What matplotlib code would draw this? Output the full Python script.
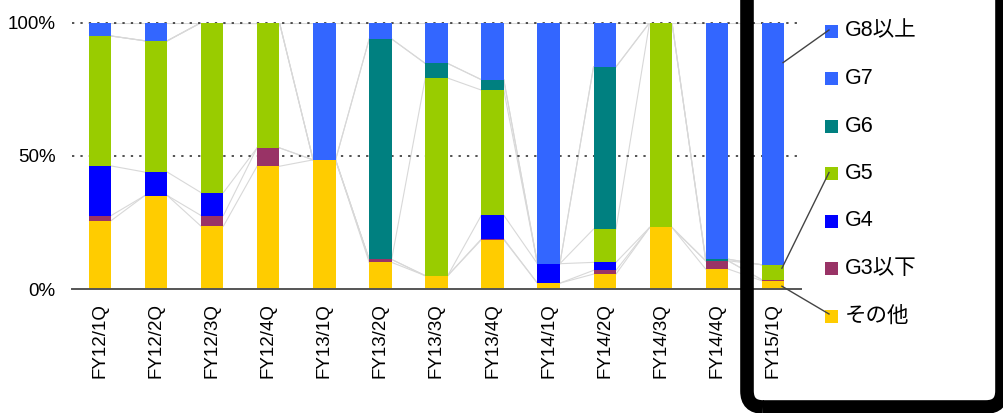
import numpy as np
import matplotlib
matplotlib.use("Agg")
from matplotlib import pyplot as plt
from matplotlib.patches import FancyBboxPatch, Rectangle
from matplotlib.lines import Line2D
from matplotlib.transforms import IdentityTransform

plt.rcParams['font.family'] = ['Liberation Sans', 'Noto Sans CJK JP', 'DejaVu Sans']

quarters = ["FY12/1Q", "FY12/2Q", "FY12/3Q", "FY12/4Q", "FY13/1Q", "FY13/2Q", "FY13/3Q",
            "FY13/4Q", "FY14/1Q", "FY14/2Q", "FY14/3Q", "FY14/4Q", "FY15/1Q"]

# shares in %, stacked bottom -> top
other = [25.7, 35.1, 23.6, 46.1, 48.5, 10.0, 5.0, 18.5, 2.2, 5.6, 23.1, 7.5, 3.1]
g3 = [1.9, 0, 4.0, 6.9, 0, 1.1, 0, 0.3, 0, 1.4, 0, 3.1, 0.4]
g4 = [18.6, 8.8, 8.6, 0, 0, 0, 0, 8.9, 7.3, 3.0, 0, 0, 0]
g5 = [48.8, 49.3, 63.8, 47.0, 0, 0, 74.2, 47.0, 0, 12.5, 76.9, 0, 5.6]
g6 = [0, 0, 0, 0, 0, 82.8, 5.5, 3.9, 0, 60.9, 0, 0.6, 0]
g7 = [0, 0, 0, 0, 0, 0, 0, 0, 0, 0, 0, 0, 0]
g8 = [5.0, 6.8, 0, 0, 51.5, 6.1, 15.3, 21.4, 90.5, 16.6, 0, 88.8, 90.9]

series = [other, g3, g4, g5, g6, g7, g8]
names = ["その他", "G3以下", "G4", "G5", "G6", "G7", "G8以上"]
colors = ["#FFCC00", "#993366", "#0000FF", "#99CC00", "#008080", "#3366FF", "#3366FF"]

W, H = 1004, 413
fig = plt.figure(figsize=(W / 100, H / 100), dpi=100)
ax = fig.add_axes([72 / W, 1 - 289 / H, (801 - 72) / W, (289 - 22.7) / H])

x = np.arange(len(quarters))
bw = 0.4
bottom = np.zeros(len(quarters))
tops = []
for vals, name, c in zip(series, names, colors):
    vals = np.array(vals, dtype=float)
    ax.bar(x, vals, bw, bottom=bottom, color=c, label=name, zorder=3, linewidth=0)
    bottom = bottom + vals
    tops.append(bottom.copy())

# series lines between bars
for t in tops:
    for i in range(len(x) - 1):
        ax.plot([x[i] + bw / 2, x[i + 1] - bw / 2], [t[i], t[i + 1]],
                color="#d8d8d8", lw=0.8, zorder=2)

for yv in (50, 100):
    ax.axhline(yv, color="#222222", lw=1.1, linestyle=(0, (1.5, 4)), zorder=2.5, clip_on=False)

ax.set_xlim(-0.5, len(quarters) - 0.5)
ax.set_ylim(0, 100)
ax.set_yticks([0, 50, 100])
ax.set_yticklabels(["0%", "50%", "100%"])
ax.set_xticks(x)
ax.set_xticklabels(quarters, rotation=90)
ax.tick_params(axis="both", length=0, labelsize=13.5)
ax.tick_params(axis="y", pad=12)
ax.tick_params(axis="x", pad=10)
for s in ("top", "right", "left"):
    ax.spines[s].set_visible(False)
ax.spines["bottom"].set_color("#555555")
ax.spines["bottom"].set_linewidth(1.4)
ax.spines["bottom"].set_zorder(4)

# highlight frame around last quarter + legend
frame = FancyBboxPatch((747, 6), 255, H + 40, boxstyle="round,pad=0,rounding_size=16",
                       transform=IdentityTransform(), facecolor="none", edgecolor="black",
                       linewidth=9.8, zorder=10)
fig.patches.append(frame)

# legend, top -> bottom
leg_y = {}
for k, (name, c) in enumerate(zip(names[::-1], colors[::-1])):
    yc = H - (31 + k * 47.5)
    leg_y[name] = yc
    fig.patches.append(Rectangle((825, yc - 6.5), 13, 13, transform=IdentityTransform(),
                                 facecolor=c, edgecolor="none"))
    fig.text(845 / W, yc / H, name, fontsize=15.5, va="center", ha="left")

# leader lines from legend to FY15/1Q segments
last = len(quarters) - 1
lowers = [0] + [t[last] for t in tops[:-1]]
uppers = [t[last] for t in tops]
targets = {
    "G8以上": (x[last] + 0.18, uppers[6] - 15),
    "G5": (x[last] + 0.16, (lowers[3] + uppers[3]) / 2 + 1.5),
    "その他": (x[last] + 0.16, (lowers[0] + uppers[0]) / 2 - 0.5),
}
for name, (tx, ty) in targets.items():
    px, py = ax.transData.transform((tx, ty))
    fig.lines.append(Line2D([px, 829], [py, leg_y[name] + (2 if name == "その他" else 1)],
                            transform=IdentityTransform(), color="#444444", lw=1.0, zorder=11))

plt.savefig("out.png", dpi=100)
plt.close()
